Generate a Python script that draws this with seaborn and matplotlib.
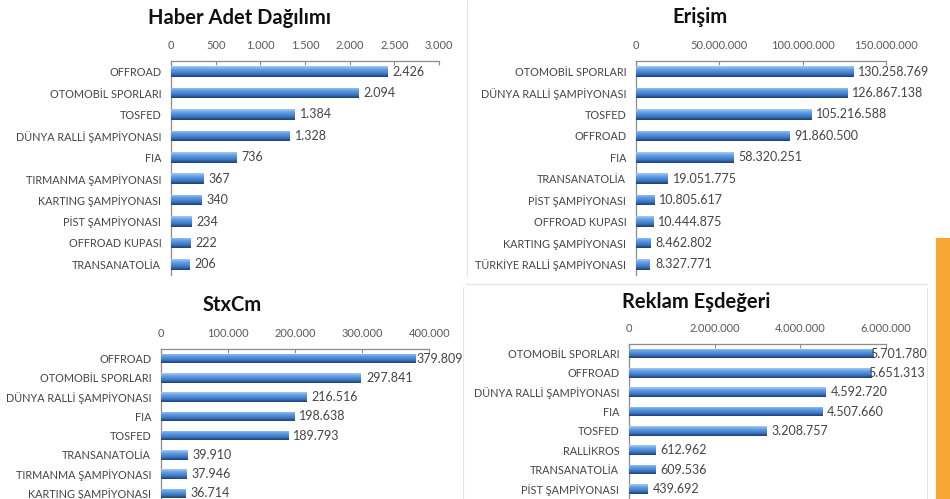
import numpy as np
import pandas as pd
import matplotlib
matplotlib.use("Agg")
import matplotlib.pyplot as plt
from matplotlib.colors import LinearSegmentedColormap
from matplotlib.lines import Line2D
import seaborn as sns

# ---------------- data ----------------
haber_cats = ["OFFROAD", "OTOMOBİL SPORLARI", "TOSFED", "DÜNYA RALLİ ŞAMPİYONASI", "FIA",
              "TIRMANMA ŞAMPİYONASI", "KARTING ŞAMPİYONASI", "PİST ŞAMPİYONASI",
              "OFFROAD KUPASI", "TRANSANATOLİA"]
haber_vals = [2426, 2094, 1384, 1328, 736, 367, 340, 234, 222, 206]
haber_ticks = [0, 500, 1000, 1500, 2000, 2500, 3000]

erisim_cats = ["OTOMOBİL SPORLARI", "DÜNYA RALLİ ŞAMPİYONASI", "TOSFED", "OFFROAD", "FIA",
               "TRANSANATOLİA", "PİST ŞAMPİYONASI", "OFFROAD KUPASI",
               "KARTING ŞAMPİYONASI", "TÜRKİYE RALLİ ŞAMPİYONASI"]
erisim_vals = [130258769, 126867138, 105216588, 91860500, 58320251,
               19051775, 10805617, 10444875, 8462802, 8327771]
erisim_ticks = [0, 50000000, 100000000, 150000000]

stx_cats = ["OFFROAD", "OTOMOBİL SPORLARI", "DÜNYA RALLİ ŞAMPİYONASI", "FIA", "TOSFED",
            "TRANSANATOLİA", "TIRMANMA ŞAMPİYONASI", "KARTING ŞAMPİYONASI"]
stx_vals = [379809, 297841, 216516, 198638, 189793, 39910, 37946, 36714]
stx_ticks = [0, 100000, 200000, 300000, 400000]

reklam_cats = ["OTOMOBİL SPORLARI", "OFFROAD", "DÜNYA RALLİ ŞAMPİYONASI", "FIA", "TOSFED",
               "RALLİKROS", "TRANSANATOLİA", "PİST ŞAMPİYONASI"]
reklam_vals = [5701780, 5651313, 4592720, 4507660, 3208757, 612962, 609536, 439692]
reklam_ticks = [0, 2000000, 4000000, 6000000]

titles = ["Haber Adet Dağılımı", "Erişim", "StxCm", "Reklam Eşdeğeri"]

# ---------------- style ----------------
sns.set_theme(style="white")
plt.rcParams["font.family"] = ["Lato", "DejaVu Sans"]

W, H = 950, 499
fig = plt.figure(figsize=(W / 100, H / 100), dpi=100)
fig.patch.set_facecolor("white")

def rect(x0, x1, ytop, ybot):
    return [x0 / W, 1 - ybot / H, (x1 - x0) / W, (ybot - ytop) / H]

def fmt(v):
    return f"{v:,}".replace(",", ".")

grad = LinearSegmentedColormap.from_list(
    "bar", [(0.0, "#a4caf3"), (0.30, "#639fe5"), (0.72, "#3a74c2"), (1.0, "#1d3f6e")])
gradient = np.linspace(0, 1, 64).reshape(-1, 1)

AXC = "#8c8c8c"
TXT = "#454545"

# (cats, vals, ticks, axes rect, title pos, label pad for bars near the axis end)
panels = [
    (haber_cats, haber_vals, haber_ticks, rect(171, 439, 61, 275), (240, 18), 5),
    (erisim_cats, erisim_vals, erisim_ticks, rect(636, 886, 61, 275), (700, 17), 5),
    (stx_cats, stx_vals, stx_ticks, rect(161, 429.5, 349, 503), (232, 305), 1),
    (reklam_cats, reklam_vals, reklam_ticks, rect(629, 886, 344, 498.5), (696, 302), -3),
]

for (cats, vals, ticks, r, tpos, endpad), title in zip(panels, titles):
    ax = fig.add_axes(r)
    df = pd.DataFrame({"cat": cats, "val": vals})
    sns.barplot(data=df, x="val", y="cat", orient="h", color="#4f8fd8",
                width=0.5, ax=ax, saturation=1)
    n = len(cats)
    xmax = ticks[-1]
    # gradient fill clipped to each bar
    for p in ax.patches:
        x0, y0 = p.get_x(), p.get_y()
        w, h = p.get_width(), p.get_height()
        im = ax.imshow(gradient, cmap=grad, aspect="auto", origin="upper",
                       extent=(x0, x0 + w, y0 + h, y0), zorder=3, interpolation="bilinear")
        im.set_clip_path(p)
    # value labels
    for p, v in zip(ax.patches, vals):
        pad = 5 if v < 0.93 * xmax else endpad
        ax.annotate(fmt(v), (p.get_x() + p.get_width(), p.get_y() + p.get_height() / 2),
                    xytext=(pad, 0), textcoords="offset pixels", va="center", ha="left",
                    fontsize=9, color=TXT, zorder=5, annotation_clip=False)
    ax.set_xlim(0, xmax)
    ax.set_ylim(n - 0.5, -0.5)
    ax.set_xticks(ticks)
    ax.set_xticklabels([fmt(t) for t in ticks])
    ax.xaxis.tick_top()
    ax.tick_params(axis="x", which="major", direction="in", length=3, width=0.8,
                   color=AXC, labelsize=8, labelcolor="#595959", pad=7)
    ax.set_yticks(range(n))
    ax.set_yticklabels(cats)
    ax.tick_params(axis="y", which="major", length=0, labelsize=7.8, labelcolor=TXT, pad=7)
    ax.set_yticks(np.arange(n + 1) - 0.5, minor=True)
    ax.tick_params(axis="y", which="minor", direction="out", length=4, width=0.8, color=AXC)
    ax.set_xlabel("")
    ax.set_ylabel("")
    for s in ["right", "bottom"]:
        ax.spines[s].set_visible(False)
    for s in ["top", "left"]:
        ax.spines[s].set_color(AXC)
        ax.spines[s].set_linewidth(0.9)
    ax.set_facecolor("none")
    ax.grid(False)
    fig.text(tpos[0] / W, 1 - tpos[1] / H, title, ha="center", va="center",
             fontsize=14.5, fontweight="bold", color="#111111")

# faint chart-area borders
bc = "#e4e4e4"
fig.add_artist(Line2D([467 / W, 467 / W], [1, 1 - 276 / H], color=bc, lw=0.8))
fig.add_artist(Line2D([463 / W, 463 / W], [1 - 287 / H, 0], color=bc, lw=0.8))
fig.add_artist(Line2D([466 / W, 927 / W], [1 - 284 / H, 1 - 284 / H], color=bc, lw=0.8))
fig.add_artist(Line2D([927 / W, 927 / W], [1 - 288 / H, 0], color=bc, lw=0.8))

# orange side strip
fig.add_artist(plt.Rectangle((936 / W, 0), 14 / W, 1 - 238 / H, transform=fig.transFigure,
                             color="#f7a833", lw=0))

fig.savefig("out.png", dpi=100)
